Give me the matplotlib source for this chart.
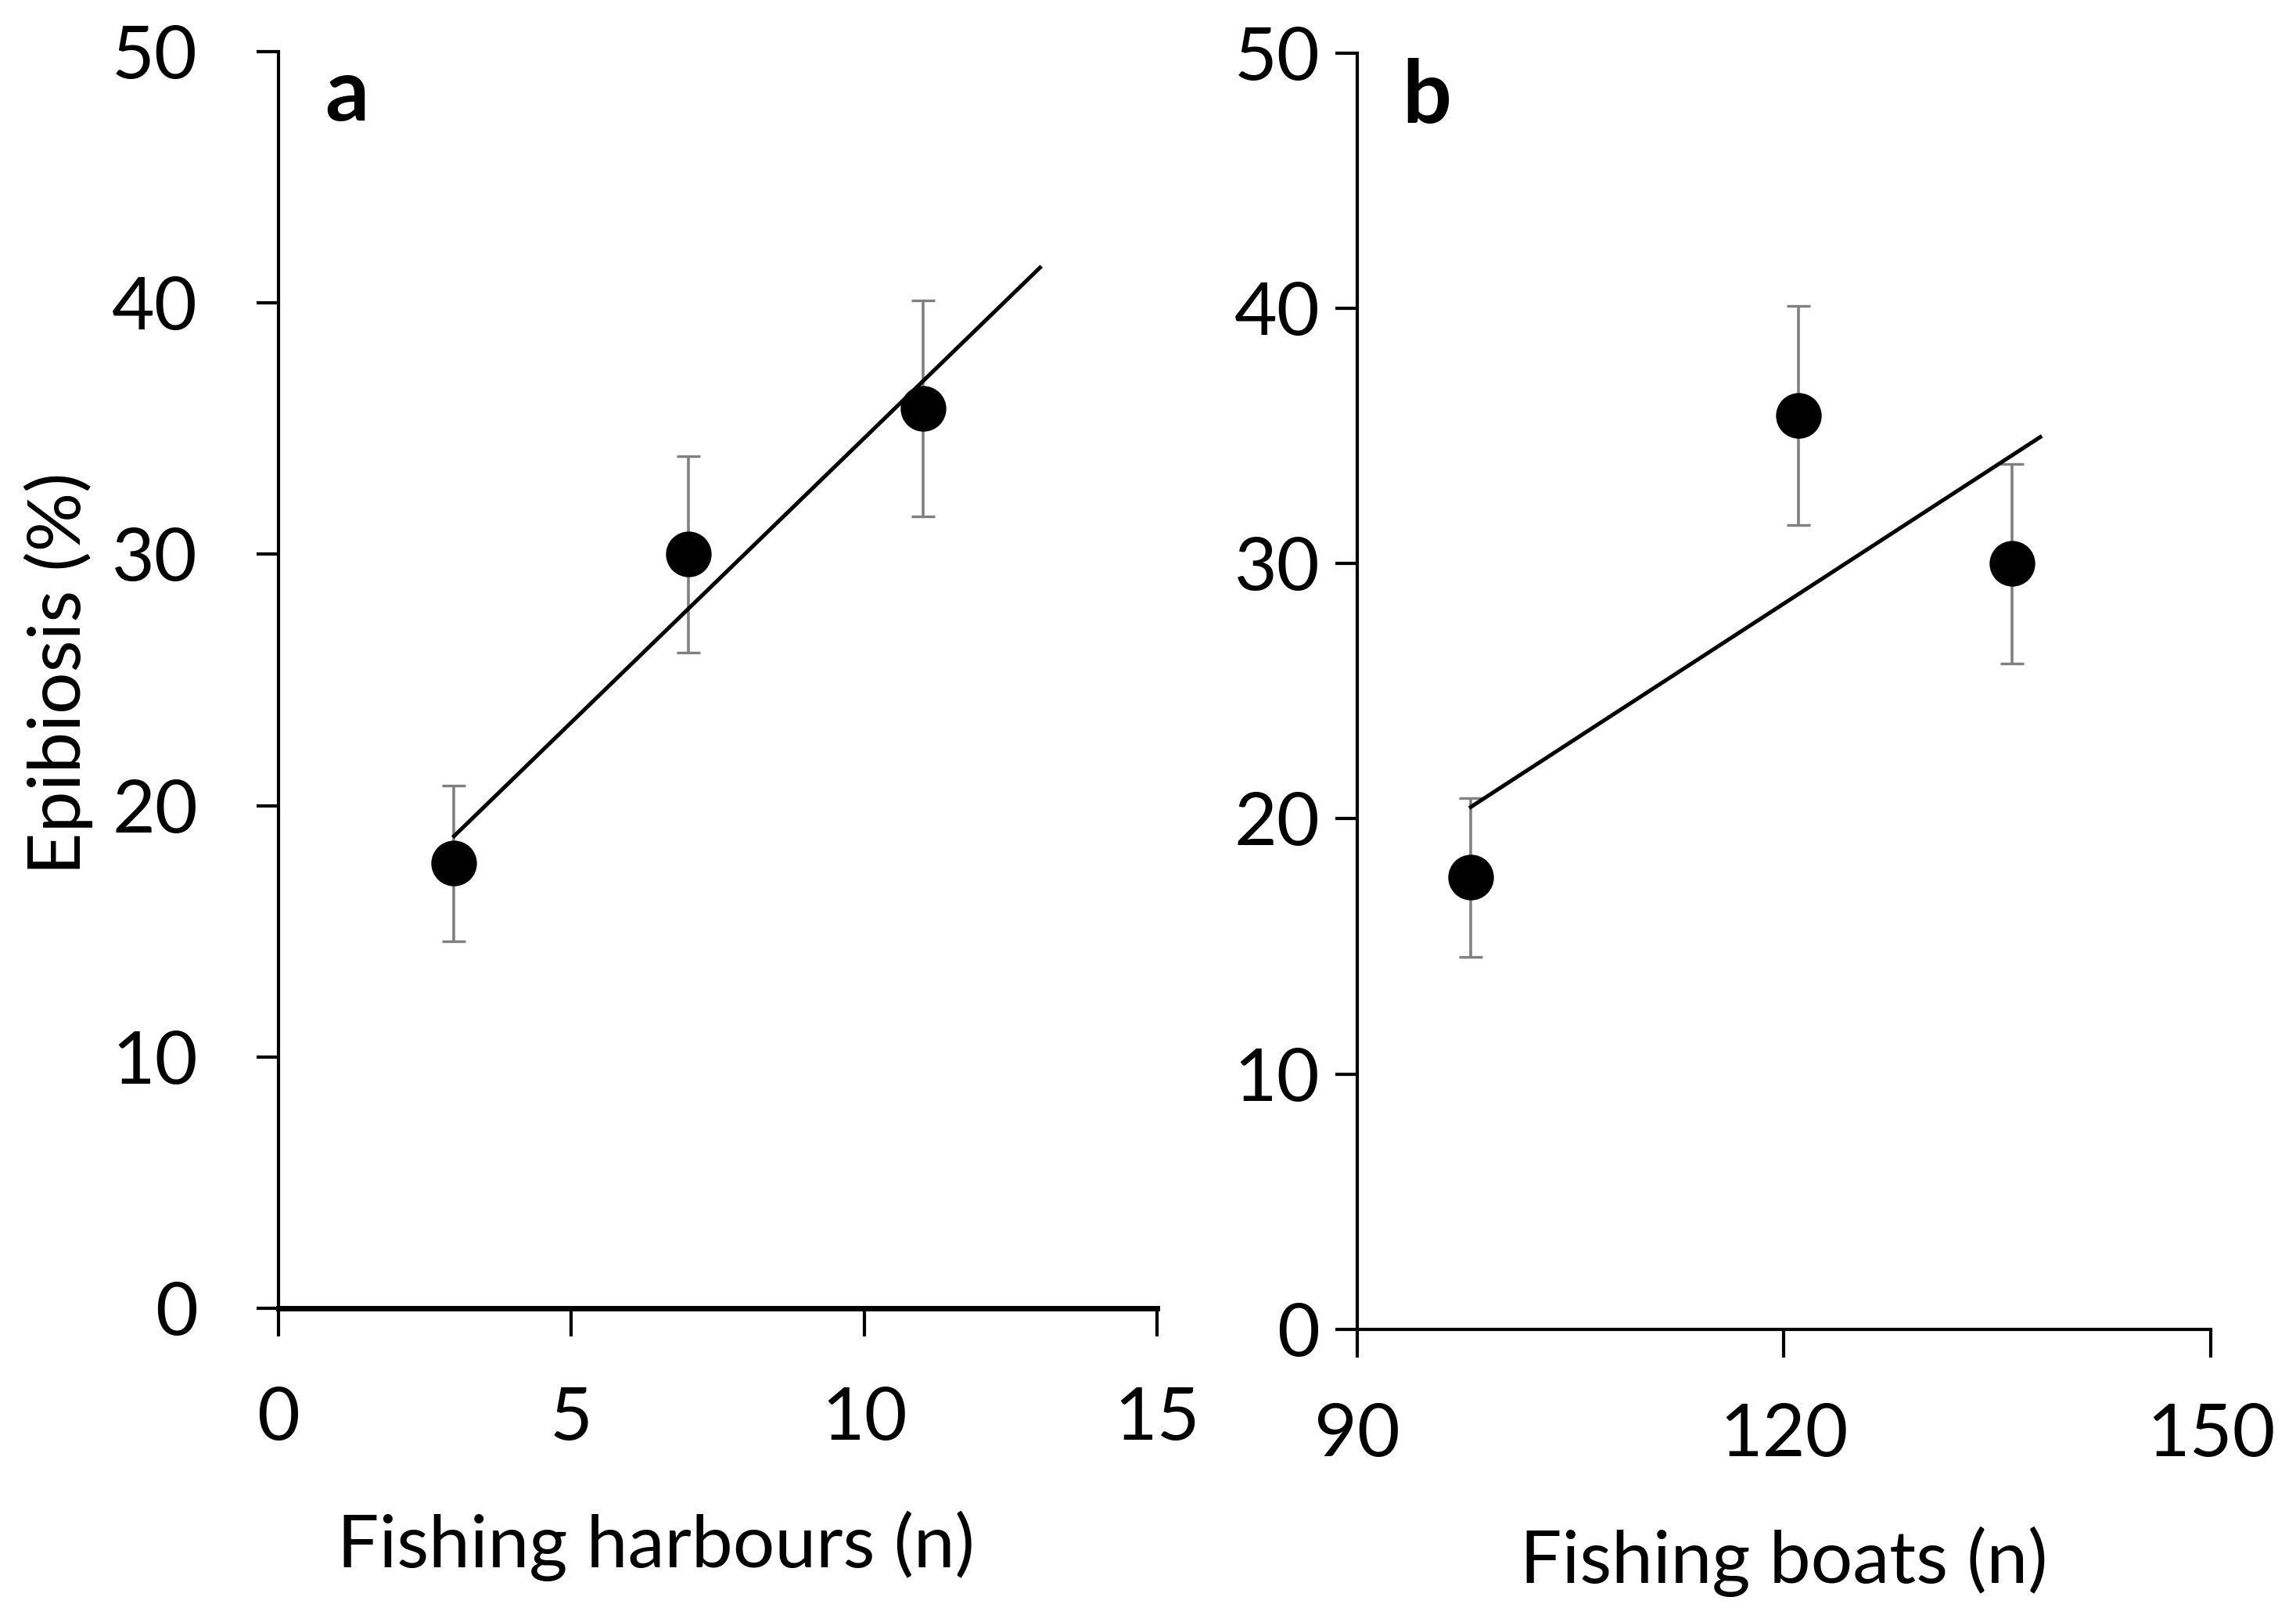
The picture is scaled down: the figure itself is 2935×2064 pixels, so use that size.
import matplotlib
matplotlib.use('Agg')
import matplotlib.pyplot as plt
import numpy as np

# epibiosis (%) per site, mean and error
epibiosis = [17.7, 30.0, 35.8]
err = [3.1, 3.9, 4.3]

# site predictors, same site order as epibiosis
harbours = [3, 7, 11]
boats = [98, 136, 121]

# trendline x range (Excel style, forward by 2)
trend_a_x = [3, 13]
trend_b_x = [98, 138]

plt.rcParams['font.family'] = ['Lato', 'DejaVu Sans']

fig = plt.figure(figsize=(29.35, 20.64), dpi=100)
ax1 = fig.add_axes([0.1212, 0.190, 0.3828, 0.778])
ax2 = fig.add_axes([0.591, 0.177, 0.372, 0.790])


def panel(ax, x, xlim, xticks, trend_x, letter, xlabel, label_x, label_y,
          ypad, xpad):
    ax.errorbar(x, epibiosis, yerr=err, fmt='none', ecolor='#808080',
                elinewidth=2.6, capsize=11, capthick=2.4, zorder=2)
    ax.plot(x, epibiosis, 'o', color='black', ms=41, zorder=3)
    k, b = np.polyfit(x, epibiosis, 1)
    tx = np.array(trend_x)
    ax.plot(tx, k * tx + b, color='black', lw=3.6, zorder=4)

    ax.set_xlim(xlim)
    ax.set_ylim(0, 50)
    ax.set_xticks(xticks)
    ax.set_yticks([0, 10, 20, 30, 40, 50])
    for s in ['top', 'right']:
        ax.spines[s].set_visible(False)
    for s in ['left', 'bottom']:
        ax.spines[s].set_linewidth(3)
    ax.tick_params(axis='y', direction='out', length=20, width=3,
                   labelsize=68, pad=ypad)
    ax.tick_params(axis='x', direction='out', length=26, width=3,
                   labelsize=68, pad=xpad)
    ax.set_xlabel(xlabel, fontsize=68, va='center')
    ax.xaxis.set_label_coords(label_x, label_y)
    ax.text(0.053, 0.965, letter, transform=ax.transAxes, fontsize=80,
            fontweight='bold', va='center', ha='left')


panel(ax1, harbours, (0, 15), [0, 5, 10, 15], trend_a_x, 'a',
      'Fishing harbours (n)', 0.43, -0.189, 54, 46)
ax1.spines['bottom'].set_linewidth(5)
ax1.set_ylabel('Epibiosis (%)', fontsize=68, va='center')
ax1.yaxis.set_label_coords(-0.25, 0.505)

panel(ax2, boats, (90, 150), [90, 120, 150], trend_b_x, 'b',
      'Fishing boats (n)', 0.5, -0.182, 14, 42)

fig.savefig('out.png', dpi=100)
